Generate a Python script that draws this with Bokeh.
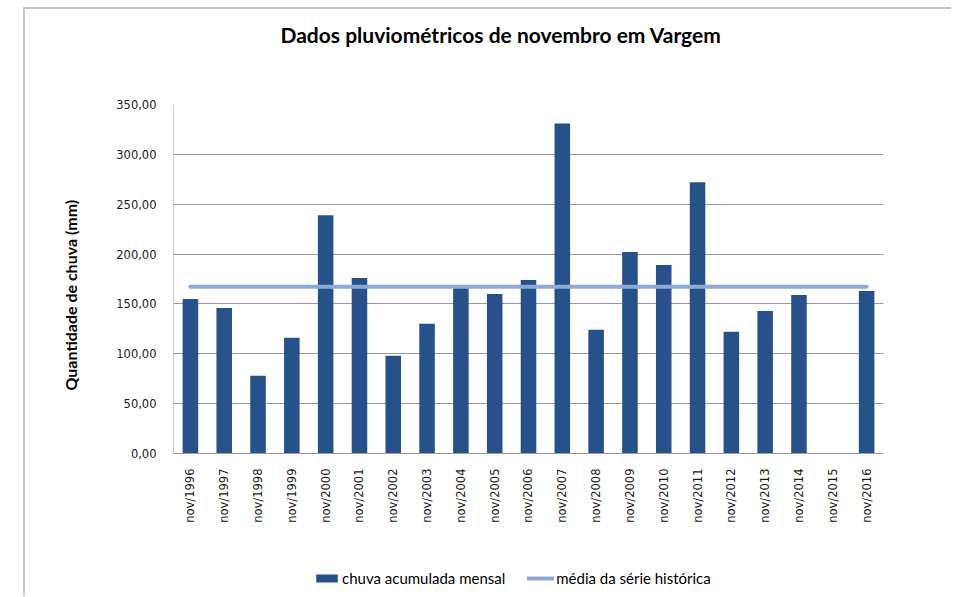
import math
from bokeh.plotting import figure
from bokeh.models import (FactorRange, Legend, LegendItem, CustomJSTickFormatter,
                          FixedTicker, Title)
from bokeh.embed import file_html
from bokeh.resources import INLINE

anos = ["nov/1996", "nov/1997", "nov/1998", "nov/1999", "nov/2000", "nov/2001",
        "nov/2002", "nov/2003", "nov/2004", "nov/2005", "nov/2006", "nov/2007",
        "nov/2008", "nov/2009", "nov/2010", "nov/2011", "nov/2012", "nov/2013",
        "nov/2014", "nov/2015", "nov/2016"]
chuva = [155.0, 146.0, 78.0, 116.0, 239.0, 176.0,
         98.0, 130.0, 166.0, 160.0, 174.0, 331.0,
         124.0, 202.0, 189.0, 272.0, 122.0, 143.0,
         159.0, float("nan"), 163.0]
media = 167.2
y_ticks = [0, 50, 100, 150, 200, 250, 300, 350]
y_max = 350
y_low = -137.4   # room under the axis for tick labels and legend

BAR = "#26518a"
MEAN = "#8eaad4"
GRID = "#9a9a9a"

p = figure(x_range=FactorRange(*anos), y_range=(y_low, y_max),
           frame_width=710, frame_height=486,
           min_border_left=148, min_border_right=68,
           min_border_top=95, min_border_bottom=6,
           output_backend="svg", toolbar_location=None)
p.margin = (7, 0, 0, 23)
p.styles = {"border-left": "2px solid #c8c8c8", "border-top": "2px solid #c8c8c8"}

bars = p.vbar(x=anos, top=chuva, width=0.46, color=BAR, line_color=None)
line = p.line(x=anos, y=[media] * len(anos), line_color=MEAN, line_width=4,
              line_cap="round")
# left value-axis line (from 0 to the top of the scale)
p.segment(x0=0, y0=0, x1=0, y1=y_max, line_color=GRID, line_width=1)

# spacer between frame and title, then the title
p.add_layout(Title(text=" ", text_font_size="10px", standoff=45), "above")
p.add_layout(Title(text="Dados pluviométricos de novembro em Vargem", align="left",
                   offset=107, standoff=0, text_font="Lato", text_font_size="21px",
                   text_font_style="bold", text_color="#000000"), "above")

p.add_layout(Title(text="Quantidade de chuva (mm)", align="left", offset=200,
                   standoff=67, text_font="Lato", text_font_size="16px",
                   text_font_style="bold", text_color="#000000"), "left")

p.yaxis.ticker = FixedTicker(ticks=y_ticks)
p.yaxis.formatter = CustomJSTickFormatter(code="return tick.toFixed(2).replace('.', ',');")
for ax in (p.xaxis, p.yaxis):
    ax.major_tick_line_color = None
    ax.minor_tick_line_color = None
    ax.major_label_text_font = "DejaVu Sans"
    ax.major_label_text_font_size = "11.5px"
    ax.major_label_text_color = "#1a1a1a"
p.yaxis.axis_line_color = None
p.yaxis.major_label_standoff = 11
p.xaxis.axis_line_color = GRID
p.xaxis.fixed_location = 0
p.xaxis.major_label_orientation = math.pi / 2
p.xaxis.major_label_standoff = 9

p.xgrid.grid_line_color = None
p.ygrid.grid_line_color = GRID
p.ygrid.ticker = FixedTicker(ticks=y_ticks)
p.outline_line_color = None

legend = Legend(items=[LegendItem(label="chuva acumulada mensal", renderers=[bars]),
                       LegendItem(label="média da série histórica", renderers=[line])],
                orientation="horizontal", location=(140, 3),
                label_text_font="Lato", label_text_font_size="15px",
                label_text_color="#000000",
                glyph_width=27, glyph_height=10, label_standoff=2, spacing=22,
                padding=0, margin=0, border_line_color=None,
                background_fill_alpha=0)
p.add_layout(legend, "center")

open("out.html", "w").write(file_html(p, INLINE))
